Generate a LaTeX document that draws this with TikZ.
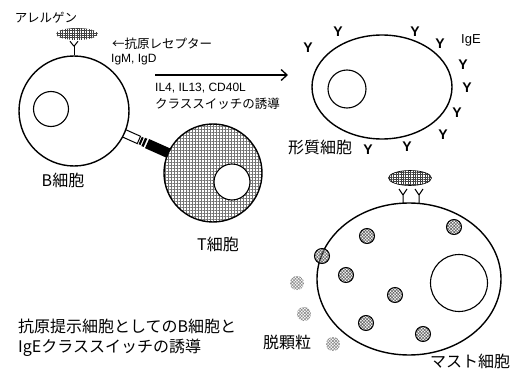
\documentclass[tikz,border=0pt]{standalone}
\usepackage{fontspec}
\setmainfont{Noto Sans CJK JP}
\newfontfamily\latinfont{Liberation Sans}
\usetikzlibrary{shapes.geometric,patterns.meta,arrows.meta}

\begin{document}
\begin{tikzpicture}[x=1pt,y=-1pt]
		\tikzstyle{cell}=[draw,line width=1.4pt,inner sep=0pt]
		\tikzstyle{nucleus}=[draw,shape=circle,line width=1.1pt,fill=white,inner sep=0pt]
		\tikzstyle{granule}=[draw,shape=circle,line width=1pt,minimum size=15pt,inner sep=0pt,pattern={Hatch[angle=45,distance=2.2pt,line width=0.6pt]},pattern color=black!60]
		\tikzstyle{loose}=[shape=circle,minimum size=14pt,inner sep=0pt,pattern={Hatch[angle=45,distance=2.2pt,line width=0.6pt]},pattern color=black!45]
		\tikzstyle{allergen}=[shape=ellipse,inner sep=0pt,pattern={Hatch[angle=0,distance=2.4pt,line width=0.6pt]},pattern color=black!75]
		\tikzstyle{ige}=[inner sep=0pt,font=\latinfont\bfseries\fontsize{14}{14}\selectfont]
		\tikzstyle{lbl}=[inner sep=0pt,font=\fontsize{16}{16}\selectfont]
		\tikzstyle{small}=[inner sep=0pt,font=\fontsize{12.5}{12.5}\selectfont]
		\tikzstyle{smalllatin}=[inner sep=0pt,font=\latinfont\fontsize{12}{12}\selectfont]
		
		\useasboundingbox (0,0) rectangle (512,369);
		
		% B cell and T cell centres, for the contact between them
		\coordinate (bc) at (74,111);
		\coordinate (tc) at (213,173);
		\path (bc) -- (tc)
			node[sloped,pos=0.411,draw,fill=white,line width=1pt,minimum width=17pt,minimum height=8pt,inner sep=0pt](mhc){}
			node[sloped,pos=0.483,fill=black,minimum width=2pt,minimum height=8pt,inner sep=0pt](bar1){}
			node[sloped,pos=0.506,fill=black,minimum width=2.4pt,minimum height=9pt,inner sep=0pt](bar2){}
			node[sloped,pos=0.611,fill=black,minimum width=26pt,minimum height=10pt,inner sep=0pt](tcr){};
		
		% B cell
		\node[cell,shape=circle,fill=white,minimum size=110pt](B) at (bc){};
		\node[nucleus,minimum size=35pt](Bn) at (51,109){};
		\node[allergen,minimum width=42pt,minimum height=12pt](agB) at (77,34){};
		\draw[line width=1pt] (B.north) -- ++(0,-9) coordinate (rB);
		\draw[line width=1pt] (rB) -- ++(-4,-5) (rB) -- ++(4,-5);
		\node[small](allergen) at (46,18){アレルゲン};
		\node[small,anchor=west](receptor) at (112,44){←抗原レセプター};
		\node[smalllatin,anchor=west](igm) at (111,60){IgM, IgD};
		\node[lbl](Blbl) at (63,180){B細胞};
		
		% T cell
		\node[cell,shape=circle,minimum size=98pt,preaction={fill=white},pattern={Hatch[angle=0,distance=3pt,line width=0.4pt]},pattern color=black!55](T) at (tc){};
		\node[nucleus,minimum size=36pt](Tn) at (232,182){};
		\node[lbl](Tlbl) at (218,244){T細胞};
		
		% class switch
		\coordinate (a1) at (155,75);
		\coordinate (a2) at (288,75);
		\draw[line width=1.3pt,-{Straight Barb[length=6pt,width=11pt]}] (a1) -- (a2);
		\node[smalllatin,anchor=west](il) at (155,88){IL4, IL13, CD40L};
		\node[small,anchor=west](switch) at (155,104){クラススイッチの誘導};
		
		% plasma cell
		\node[cell,shape=ellipse,minimum width=140pt,minimum height=104pt](P) at (382,87){};
		\node[nucleus,minimum size=38pt](Pn) at (347,89){};
		\node[ige](y1) at (308,48){Y};
		\node[ige](y2) at (338,32){Y};
		\node[ige](y3) at (415,32){Y};
		\node[ige](y4) at (440,44){Y};
		\node[ige](y5) at (463,65){Y};
		\node[ige](y6) at (467,88){Y};
		\node[ige](y7) at (457,113){Y};
		\node[ige](y8) at (443,135){Y};
		\node[ige](y9) at (407,147){Y};
		\node[ige](y10) at (368,150){Y};
		\node[smalllatin,font=\latinfont\fontsize{13}{13}\selectfont](IgE) at (471,40){IgE};
		\node[lbl](Plbl) at (320,147){形質細胞};
		
		% mast cell
		\node[cell,shape=ellipse,fill=white,minimum width=184pt,minimum height=152pt](M) at (409,279){};
		\node[nucleus,minimum size=57pt](Mn) at (459,283){};
		\node[allergen,draw,line width=0.6pt,minimum width=43pt,minimum height=15pt](agM) at (410,178){};
		\draw[line width=1pt] (403,203) -- (403,195) -- (399,189) (403,195) -- (407,189);
		\draw[line width=1pt] (419,203) -- (419,195) -- (415,189) (419,195) -- (423,189);
		\node[granule](g1) at (367,236){};
		\node[granule](g2) at (454,227){};
		\node[granule](g3) at (322,256){};
		\node[granule](g4) at (346,275){};
		\node[granule](g5) at (395,295){};
		\node[granule](g6) at (366,323){};
		\node[granule](g7) at (423,334){};
		\node[loose](d1) at (297,283){};
		\node[loose](d2) at (304,314){};
		\node[loose](d3) at (333,344){};
		\node[lbl](degran) at (287,342){脱顆粒};
		\node[lbl](Mlbl) at (470,361){マスト細胞};
		
		\node[lbl,anchor=west,align=left,font=\fontsize{16}{20}\selectfont](caption) at (18,338){抗原提示細胞としてのB細胞と\\IgEクラススイッチの誘導};
\end{tikzpicture}
\end{document}
